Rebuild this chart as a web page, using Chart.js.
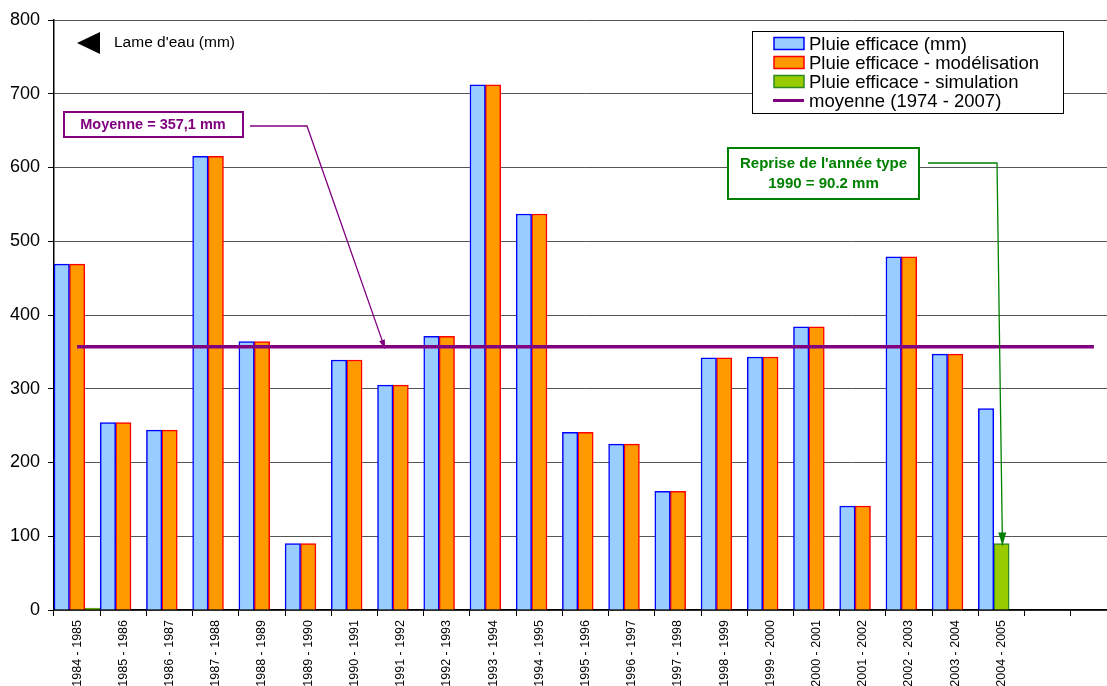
<!DOCTYPE html>
<html>
<head>
<meta charset="utf-8">
<title>Pluie efficace</title>
<script src="https://cdn.jsdelivr.net/npm/chart.js@4.4.1/dist/chart.umd.min.js"></script>
<style>
  html, body { margin: 0; padding: 0; overflow: hidden; background: #fff; }
  canvas { display: block; }
</style>
</head>
<body>
<canvas id="pluieChart" width="1117" height="686"></canvas>
<script>
// campagnes hydrologiques (les deux dernières colonnes restent vides)
const campagnes = [
  '1984 - 1985', '1985 - 1986', '1986 - 1987', '1987 - 1988', '1988 - 1989',
  '1989 - 1990', '1990 - 1991', '1991 - 1992', '1992 - 1993', '1993 - 1994',
  '1994 - 1995', '1995 - 1996', '1996 - 1997', '1997 - 1998', '1998 - 1999',
  '1999 - 2000', '2000 - 2001', '2001 - 2002', '2002 - 2003', '2003 - 2004',
  '2004 - 2005', '', ''
];

// lame d'eau mesurée (mm)
const pluieEfficace = [469, 254, 244, 615, 364, 90.2, 339, 305, 371, 712,
  537, 241, 225, 161, 342, 343, 384, 141, 479, 347, 273, null, null];

// modélisation ; 2004-2005 reprend l'année type 1990
const pluieModelisation = [469, 254, 244, 615, 364, 90.2, 339, 305, 371, 712,
  537, 241, 225, 161, 342, 343, 384, 141, 479, 347, 90.2, null, null];

// série simulation (seulement une valeur nulle en tête)
const pluieSimulation = [0, null, null, null, null, null, null, null, null, null,
  null, null, null, null, null, null, null, null, null, null, null, null, null];

const anneeSimulee = '2004 - 2005';
const anneeType = 90.2;
const moyenne = 357.1;

const yTicks = [0, 100, 200, 300, 400, 500, 600, 700, 800];

const FONT = 'Arial, "Liberation Sans", sans-serif';
const BLEU = '#99CCFF', BLEU_BORD = '#0000FF';
const ORANGE = '#FF9900', ORANGE_BORD = '#FF0000';
const VERT = '#99CC00', VERT_BORD = '#2E8B22';
const VIOLET = '#800080';

// couleurs point par point pour la série orange
const fondModel = campagnes.map(c => c === anneeSimulee ? VERT : ORANGE);
const bordModel = campagnes.map(c => c === anneeSimulee ? VERT_BORD : ORANGE_BORD);

function fleche(ctx, pts, color, width, headLen, headW) {
  ctx.save();
  ctx.strokeStyle = color;
  ctx.fillStyle = color;
  ctx.lineWidth = width;
  ctx.beginPath();
  ctx.moveTo(pts[0][0], pts[0][1]);
  for (let i = 1; i < pts.length; i++) ctx.lineTo(pts[i][0], pts[i][1]);
  ctx.stroke();
  const [x1, y1] = pts[pts.length - 2];
  const [x2, y2] = pts[pts.length - 1];
  const a = Math.atan2(y2 - y1, x2 - x1);
  ctx.translate(x2, y2);
  ctx.rotate(a);
  ctx.beginPath();
  ctx.moveTo(0, 0);
  ctx.lineTo(-headLen, -headW / 2);
  ctx.lineTo(-headLen, headW / 2);
  ctx.closePath();
  ctx.fill();
  ctx.restore();
}

// légende, titre d'axe et annotations dessinés par-dessus le graphique
const decorPlugin = {
  id: 'decor',
  afterDraw(chart) {
    const ctx = chart.ctx;
    const xs = chart.scales.x, ys = chart.scales.y;
    ctx.save();

    // titre de l'axe
    ctx.fillStyle = '#000';
    ctx.beginPath();
    ctx.moveTo(77, 43);
    ctx.lineTo(100, 32);
    ctx.lineTo(100, 54);
    ctx.closePath();
    ctx.fill();
    ctx.font = '15.5px ' + FONT;
    ctx.textBaseline = 'middle';
    ctx.textAlign = 'left';
    ctx.fillText("Lame d'eau (mm)", 114, 43);

    // légende
    ctx.fillStyle = '#fff';
    ctx.fillRect(752, 31, 311, 82);
    ctx.strokeStyle = '#000';
    ctx.lineWidth = 1;
    ctx.strokeRect(752.5, 31.5, 311, 82);
    const items = [
      { text: 'Pluie efficace (mm)', fill: BLEU, border: BLEU_BORD },
      { text: 'Pluie efficace - modélisation', fill: ORANGE, border: ORANGE_BORD },
      { text: 'Pluie efficace - simulation', fill: VERT, border: VERT_BORD },
      { text: 'moyenne (1974 - 2007)', line: VIOLET }
    ];
    ctx.font = '18.5px ' + FONT;
    items.forEach((it, i) => {
      const yc = 43.5 + i * 19;
      if (it.line) {
        ctx.strokeStyle = it.line;
        ctx.lineWidth = 3;
        ctx.beginPath();
        ctx.moveTo(773, yc);
        ctx.lineTo(804, yc);
        ctx.stroke();
      } else {
        ctx.fillStyle = it.fill;
        ctx.fillRect(774, yc - 6, 30, 12);
        ctx.strokeStyle = it.border;
        ctx.lineWidth = 1.5;
        ctx.strokeRect(774, yc - 6, 30, 12);
      }
      ctx.fillStyle = '#000';
      ctx.fillText(it.text, 809, yc + 1);
    });

    // moyenne
    ctx.fillStyle = '#fff';
    ctx.fillRect(64, 112, 179, 25);
    ctx.strokeStyle = VIOLET;
    ctx.lineWidth = 2;
    ctx.strokeRect(64, 112, 179, 25);
    ctx.fillStyle = VIOLET;
    ctx.font = 'bold 14.5px ' + FONT;
    ctx.textAlign = 'center';
    ctx.fillText('Moyenne = 357,1 mm', 153, 125);
    fleche(ctx, [[250, 126], [307, 126], [385, ys.getPixelForValue(moyenne) + 2]], VIOLET, 1.3, 9, 6);

    // année type reprise
    ctx.fillStyle = '#fff';
    ctx.fillRect(728, 148, 191, 51);
    ctx.strokeStyle = '#008000';
    ctx.lineWidth = 2;
    ctx.strokeRect(728, 148, 191, 51);
    ctx.fillStyle = '#008000';
    ctx.font = 'bold 15px ' + FONT;
    ctx.fillText("Reprise de l'année type", 823.5, 164);
    ctx.fillText('1990 = 90.2 mm', 823.5, 184);
    const ix = campagnes.indexOf(anneeSimulee);
    fleche(ctx, [[928, 163], [997, 163], [xs.getPixelForValue(ix) + 1, ys.getPixelForValue(anneeType) + 2]],
      '#008000', 1.3, 13, 8);

    ctx.restore();
  }
};

const ctx = document.getElementById('pluieChart').getContext('2d');
const chart = new Chart(ctx, {
  type: 'bar',
  data: {
    labels: campagnes,
    datasets: [
      {
        type: 'line',
        label: 'moyenne (1974 - 2007)',
        data: campagnes.map(() => moyenne),
        borderColor: VIOLET,
        borderWidth: 3.5,
        pointRadius: 0,
        order: 0
      },
      {
        label: 'Pluie efficace (mm)',
        data: pluieEfficace,
        backgroundColor: BLEU,
        borderColor: BLEU_BORD,
        borderWidth: 1.5,
        order: 1
      },
      {
        label: 'Pluie efficace - modélisation',
        data: pluieModelisation,
        backgroundColor: fondModel,
        borderColor: bordModel,
        borderWidth: 1.5,
        order: 1
      },
      {
        label: 'Pluie efficace - simulation',
        data: pluieSimulation,
        backgroundColor: VERT,
        borderColor: VERT_BORD,
        borderWidth: 1,
        minBarLength: 2,
        order: 1
      }
    ]
  },
  options: {
    responsive: false,
    devicePixelRatio: 1,
    animation: false,
    layout: { padding: { top: 20, left: 0, right: 0, bottom: 0 } },
    datasets: {
      bar: { categoryPercentage: 1, barPercentage: 1 }
    },
    plugins: {
      legend: { display: false },
      tooltip: { enabled: false }
    },
    scales: {
      x: {
        offset: true,
        ticks: {
          autoSkip: false,
          maxRotation: 90,
          minRotation: 90,
          color: '#000',
          font: { family: FONT, size: 12.5 },
          padding: 4
        },
        grid: { drawOnChartArea: false, offset: true, tickLength: 6, color: '#000' },
        border: { color: '#000', width: 1.5 },
        afterFit(scale) { scale.height = 76; }
      },
      y: {
        min: 0,
        max: 800,
        afterBuildTicks(scale) { scale.ticks = yTicks.map(v => ({ value: v })); },
        ticks: {
          color: '#000',
          font: { family: FONT, size: 18 },
          padding: 8
        },
        grid: { color: '#555', lineWidth: 1, tickLength: 6, tickColor: '#000' },
        border: { color: '#000', width: 1.5 },
        afterFit(scale) { scale.width = 54; }
      }
    }
  },
  plugins: [decorPlugin]
});
</script>
</body>
</html>
